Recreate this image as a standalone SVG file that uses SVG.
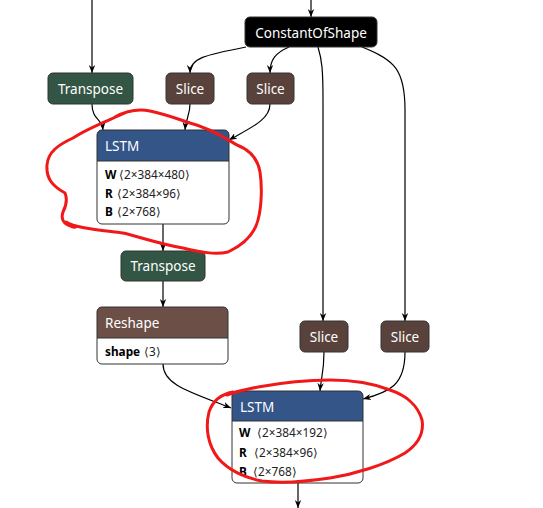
<svg xmlns="http://www.w3.org/2000/svg" width="543" height="508" viewBox="0 0 543 508">
<defs>
<style>
.box{stroke:#333;stroke-width:1}
.hdr{fill:#fff;font-family:"Noto Sans","Open Sans",sans-serif;font-size:13.5px}
.ctr{text-anchor:middle}
.attr{fill:#000;font-family:"Noto Sans","Open Sans",sans-serif;font-size:11.8px}
.nm{font-weight:bold}
.val{fill:#222}
.edge{fill:none;stroke:#000;stroke-width:1.2;marker-end:url(#arr)}
.red{fill:none;stroke:#f01818;stroke-width:3;stroke-linecap:round;stroke-linejoin:round}
.transform{fill:#335544}
.tensor{fill:#59423b}
.shape{fill:#6c4f47}
.layer{fill:#335588}
.const{fill:#000}
</style>
<marker id="arr" viewBox="0 0 10 10" refX="10" refY="5" markerWidth="8" markerHeight="8" markerUnits="userSpaceOnUse" orient="auto">
<path d="M0,1 L10,5 L0,9 L3,5 z" fill="#000"/>
</marker>
</defs>
<rect width="543" height="508" fill="#fff"/>

<g id="edges">
<path class="edge" d="M92,0 L92,73"/>
<path class="edge" d="M311,0 L311,17"/>
<path class="edge" d="M246,47 C205,55 190,58 190,73"/>
<path class="edge" d="M289,47 C275,53 270,60 270,73"/>
<path class="edge" d="M318,47 C322,60 323,70 323,100 L323,321"/>
<path class="edge" d="M362,47 C395,60 405,70 405,110 L405,321"/>
<path class="edge" d="M92,104 C92,120 102,118 103,130"/>
<path class="edge" d="M190,104 C190,115 186,118 185,130"/>
<path class="edge" d="M270,104 C270,120 250,128 229,140"/>
<path class="edge" d="M163,224 L163,251"/>
<path class="edge" d="M163,281 L163,307"/>
<path class="edge" d="M163,364 C163,385 190,392 231,408"/>
<path class="edge" d="M324,352 C324,372 321,378 320,391"/>
<path class="edge" d="M405,352 C405,385 390,392 363,399"/>
<path class="edge" d="M298,483 L298,508"/>
</g>

<g id="n_transpose1">
<rect class="box transform" x="48" y="73" width="85" height="31" rx="5"/>
<text class="hdr ctr" x="90.5" y="94">Transpose</text>
</g>
<g id="n_const">
<rect class="box const" x="245" y="17" width="132" height="30" rx="5"/>
<text class="hdr ctr" x="311" y="38">ConstantOfShape</text>
</g>
<g id="n_slice1">
<rect class="box tensor" x="166" y="73" width="48" height="31" rx="5"/>
<text class="hdr ctr" x="190" y="94">Slice</text>
</g>
<g id="n_slice2">
<rect class="box tensor" x="247" y="73" width="47" height="31" rx="5"/>
<text class="hdr ctr" x="270.5" y="94">Slice</text>
</g>
<g id="n_lstm1">
<path class="layer" d="M97,161 L97,135 Q97,130 102,130 L224,130 Q229,130 229,135 L229,161 z"/>
<path fill="#fff" d="M97,161 L229,161 L229,219 Q229,224 224,224 L102,224 Q97,224 97,219 z"/>
<rect fill="none" class="box" x="97" y="130" width="132" height="94" rx="5"/>
<line x1="97" y1="161" x2="229" y2="161" stroke="#333"/>
<text class="hdr" x="105" y="151">LSTM</text>
<text class="attr" x="105" y="179"><tspan class="nm">W</tspan><tspan class="val" x="119">⟨2×384×480⟩</tspan></text>
<text class="attr" x="105" y="198"><tspan class="nm">R</tspan><tspan class="val" x="117">⟨2×384×96⟩</tspan></text>
<text class="attr" x="105" y="216"><tspan class="nm">B</tspan><tspan class="val" x="117">⟨2×768⟩</tspan></text>
</g>
<g id="n_transpose2">
<rect class="box transform" x="121" y="251" width="84" height="30" rx="5"/>
<text class="hdr ctr" x="163" y="271">Transpose</text>
</g>
<g id="n_reshape">
<path class="shape" d="M97,338 L97,312 Q97,307 102,307 L223,307 Q228,307 228,312 L228,338 z"/>
<path fill="#fff" d="M97,338 L228,338 L228,359 Q228,364 223,364 L102,364 Q97,364 97,359 z"/>
<rect fill="none" class="box" x="97" y="307" width="131" height="57" rx="5"/>
<line x1="97" y1="338" x2="228" y2="338" stroke="#333"/>
<text class="hdr" x="105" y="328">Reshape</text>
<text class="attr" x="105" y="356"><tspan class="nm">shape</tspan><tspan class="val" x="144">⟨3⟩</tspan></text>
</g>
<g id="n_slice3">
<rect class="box tensor" x="300" y="321" width="48" height="31" rx="5"/>
<text class="hdr ctr" x="324" y="342">Slice</text>
</g>
<g id="n_slice4">
<rect class="box tensor" x="381" y="321" width="48" height="31" rx="5"/>
<text class="hdr ctr" x="405" y="342">Slice</text>
</g>
<g id="n_lstm2">
<path class="layer" d="M232,421 L232,396 Q232,391 237,391 L358,391 Q363,391 363,396 L363,421 z"/>
<path fill="#fff" d="M232,421 L363,421 L363,478 Q363,483 358,483 L237,483 Q232,483 232,478 z"/>
<rect fill="none" class="box" x="232" y="391" width="131" height="92" rx="5"/>
<line x1="232" y1="421" x2="363" y2="421" stroke="#333"/>
<text class="hdr" x="240" y="412">LSTM</text>
<text class="attr" x="239" y="437"><tspan class="nm">W</tspan><tspan class="val" x="257">⟨2×384×192⟩</tspan></text>
<text class="attr" x="239" y="457"><tspan class="nm">R</tspan><tspan class="val" x="254">⟨2×384×96⟩</tspan></text>
<text class="attr" x="239" y="476"><tspan class="nm">B</tspan><tspan class="val" x="253">⟨2×768⟩</tspan></text>
</g>

<g id="annotations">
<path class="red" d="M125,113 C105,122 88,128 73,138 C58,145 48,152 47,165 C46,178 52,186 65,193 C68,200 66,206 63,212 C61,218 62,224 73,227 C80,228 70,226 66,222 C75,228 100,230 123,233 C140,237 160,244 183,248 C200,252 215,255 228,252 C245,244 255,232 258,220 C262,205 262,185 260,172 C258,160 250,150 237,145 C225,138 210,128 190,123 C175,118 165,114 150,111 C140,109 128,110 115,117"/>
<path class="red" d="M233,392 C222,394 213,400 209,412 C205,428 208,445 218,458 C228,470 245,478 262,481 C285,484 310,481 330,478 C355,474 385,465 405,453 C420,443 424,432 422,420 C418,405 405,395 390,390 C375,384 355,380 330,380 C305,380 280,383 258,387 C248,389 238,391 227,395"/>
</g>
</svg>
